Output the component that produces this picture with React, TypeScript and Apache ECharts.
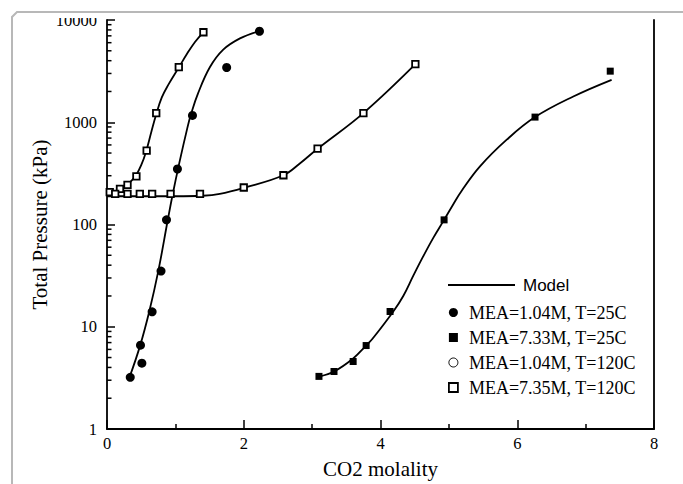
import React, { useEffect, useRef } from "react";
import * as echarts from "echarts";

// ---- measured data (CO2 molality, total pressure kPa) ----
const mea104_25C: [number, number][] = [
  [0.34, 3.2], [0.49, 6.6], [0.51, 4.4], [0.66, 14], [0.79, 35],
  [0.87, 111], [1.03, 349], [1.25, 1165], [1.75, 3430], [2.23, 7760],
];
const mea733_25C: [number, number][] = [
  [3.1, 3.27], [3.32, 3.65], [3.6, 4.57], [3.79, 6.55], [4.14, 14.1],
  [4.93, 111], [6.26, 1123], [7.36, 3160],
];
const mea104_120C: [number, number][] = [
  [0.04, 207], [0.19, 223], [0.3, 244], [0.43, 296], [0.58, 527],
  [0.72, 1230], [1.05, 3456], [1.41, 7590],
];
const mea735_120C: [number, number][] = [
  [0.12, 199], [0.3, 199], [0.48, 199], [0.66, 199], [0.93, 199],
  [1.36, 199], [2.0, 230], [2.58, 303], [3.08, 551], [3.75, 1230], [4.51, 3700],
];

// ---- model curves ----
const modelA: [number, number][] = [
  [0.336, 3.3], [0.483, 6.5], [0.619, 14.2], [0.75, 35], [0.888, 110],
  [0.955, 189], [1.057, 398], [1.177, 891], [1.229, 1202], [1.33, 1905],
  [1.506, 3467], [1.7, 5129], [1.945, 6607], [2.22, 7762],
];
const modelB: [number, number][] = [
  [3.115, 3.27], [3.32, 3.65], [3.6, 4.9], [3.79, 6.55], [3.886, 7.67],
  [4.187, 14.1], [4.333, 20], [4.48, 31.6], [4.626, 49], [4.772, 74],
  [4.93, 111], [5.065, 158], [5.188, 214], [5.455, 370], [5.846, 675],
  [6.26, 1123], [6.82, 1786], [7.38, 2600],
];
const modelC: [number, number][] = [
  [0.044, 190], [0.19, 215], [0.288, 246], [0.36, 269], [0.424, 302],
  [0.5, 380], [0.57, 513], [0.65, 813], [0.717, 1175], [0.8, 1738],
  [0.9, 2344], [1.053, 3459], [1.166, 4624], [1.287, 6095], [1.408, 7586],
];
const modelD: [number, number][] = [
  [0, 189], [0.5, 189], [1.0, 189], [1.4, 191], [1.65, 199], [2.0, 228],
  [2.58, 303], [2.82, 395], [3.08, 551], [3.75, 1230], [4.51, 3700],
];

// ---- axes ----
const xMin = 0;
const xMax = 8;
const xInterval = 2;
const yMin = 1;
const yMax = 10000;
const yMinorTickValues = [
  2, 3, 4, 5, 6, 7, 8, 9,
  20, 30, 40, 50, 60, 70, 80, 90,
  200, 300, 400, 500, 600, 700, 800, 900,
  2000, 3000, 4000, 5000, 6000, 7000, 8000, 9000,
];

const SERIF = "Liberation Serif, Times New Roman, serif";
const SANS = "Liberation Sans, Arial, sans-serif";

const lineSeries = (data: [number, number][]) => ({
  type: "line",
  name: "Model",
  data,
  smooth: 0.4,
  showSymbol: false,
  symbol: "none",
  lineStyle: { color: "#000", width: 1.8 },
  itemStyle: { color: "#000" },
  z: 2,
});

export default function App() {
  const ref = useRef<HTMLDivElement>(null);
  useEffect(() => {
    if (!ref.current) return;
    const chart = echarts.init(ref.current, undefined, { renderer: "svg" });
    const option: any = {
      animation: false,
      backgroundColor: "#fff",
      grid: { left: 107, right: 29, top: 20, bottom: 54 },
      xAxis: {
        type: "value",
        min: xMin,
        max: xMax,
        interval: xInterval,
        name: "CO2 molality",
        nameLocation: "middle",
        nameGap: 29,
        nameMoveOverlap: false,
        nameTextStyle: { fontFamily: SERIF, fontSize: 21, color: "#000" },
        axisLine: { show: true, lineStyle: { color: "#000", width: 1.8 } },
        axisTick: { show: true, inside: true, length: 9, lineStyle: { color: "#000", width: 1.5 } },
        minorTick: { show: true, splitNumber: 2, length: 5, lineStyle: { color: "#000", width: 1.5 } },
        splitLine: { show: false },
        minorSplitLine: { show: false },
        axisLabel: { fontFamily: SERIF, fontSize: 16.5, color: "#000", margin: 6 },
      },
      yAxis: [
        {
          type: "log",
          logBase: 10,
          min: yMin,
          max: yMax,
          name: "Total Pressure (kPa)",
          nameLocation: "middle",
          nameGap: 57,
          nameMoveOverlap: false,
          nameTextStyle: { fontFamily: SERIF, fontSize: 21, color: "#000" },
          axisLine: { show: true, lineStyle: { color: "#000", width: 1.8 } },
          axisTick: { show: true, inside: true, length: 8, lineStyle: { color: "#000", width: 1.5 } },
          splitLine: { show: false },
          axisLabel: {
            fontFamily: SERIF,
            fontSize: 16.5,
            color: "#000",
            margin: 10,
            formatter: (v: number) => String(Math.round(v)),
          },
        },
        {
          type: "value",
          position: "right",
          min: 0,
          max: 1,
          axisLine: { show: true, lineStyle: { color: "#000", width: 1.8 } },
          axisTick: { show: false },
          axisLabel: { show: false },
          splitLine: { show: false },
        },
      ],
      legend: [
        {
          data: [{ name: "Model", icon: "rect", itemStyle: { color: "#000" } }],
          left: 448,
          top: 275,
          padding: 0,
          itemWidth: 67,
          itemHeight: 2,
          textStyle: { fontFamily: SANS, fontSize: 17, color: "#000", lineHeight: 20, padding: [0, 0, 0, 3] },
          selectedMode: false,
        },
        {
          data: [
            { name: "MEA=1.04M, T=25C", icon: "circle" },
            { name: "MEA=7.33M, T=25C", icon: "rect" },
            {
              name: "MEA=1.04M, T=120C",
              icon: "circle",
              itemStyle: { color: "#fff", borderColor: "#000", borderWidth: 1 },
            },
            {
              name: "MEA=7.35M, T=120C",
              icon: "rect",
              itemStyle: { color: "#fff", borderColor: "#000", borderWidth: 1.8 },
            },
          ],
          orient: "vertical",
          left: 448,
          top: 302.5,
          padding: 0,
          itemGap: 5,
          itemWidth: 9,
          itemHeight: 9,
          textStyle: { fontFamily: SERIF, fontSize: 18, color: "#000", lineHeight: 20, padding: [0, 0, 0, 6] },
          selectedMode: false,
        },
      ],
      graphic: [
        {
          type: "polyline",
          z: 100,
          silent: true,
          shape: { points: [[12, 484], [12, 17], [17, 12], [683, 12]] },
          style: { fill: null, stroke: "#b8b8b8", lineWidth: 2 },
        },
        {
          type: "rect",
          z: 100,
          silent: true,
          shape: { x: 40, y: 13.5, width: 64, height: 4.5 },
          style: { fill: "#ffffff" },
        },
      ],
      series: [
        lineSeries(modelA),
        lineSeries(modelB),
        lineSeries(modelC),
        lineSeries(modelD),
        {
          type: "scatter",
          name: "MEA=1.04M, T=25C",
          data: mea104_25C,
          symbol: "circle",
          symbolSize: 9,
          itemStyle: { color: "#000", opacity: 1 },
          z: 5,
        },
        {
          type: "scatter",
          name: "MEA=7.33M, T=25C",
          data: mea733_25C,
          symbol: "rect",
          symbolSize: 7,
          itemStyle: { color: "#000", opacity: 1 },
          z: 5,
        },
        {
          type: "scatter",
          name: "MEA=1.04M, T=120C",
          data: mea104_120C,
          symbol: "rect",
          symbolSize: 6.5,
          itemStyle: { color: "#fff", borderColor: "#000", borderWidth: 1.8, opacity: 1 },
          z: 5,
        },
        {
          type: "scatter",
          name: "MEA=7.35M, T=120C",
          data: mea735_120C,
          symbol: "rect",
          symbolSize: 6.5,
          itemStyle: { color: "#fff", borderColor: "#000", borderWidth: 1.8, opacity: 1 },
          z: 5,
        },
        {
          type: "custom",
          name: "yMinorTicks",
          data: yMinorTickValues.map((v) => [xMin, v]),
          clip: false,
          silent: true,
          renderItem: (_params: any, api: any) => {
            const p = api.coord([api.value(0), api.value(1)]);
            return {
              type: "line",
              shape: { x1: p[0], y1: p[1], x2: p[0] + 4.5, y2: p[1] },
              style: { stroke: "#000", lineWidth: 1.5 },
            };
          },
          z: 3,
        },
      ],
    };
    chart.setOption(option);
    return () => chart.dispose();
  }, []);
  return (
    <div
      ref={ref}
      style={{ position: "fixed", left: 0, top: 0, width: 683, height: 484, background: "#fff" }}
    />
  );
}
